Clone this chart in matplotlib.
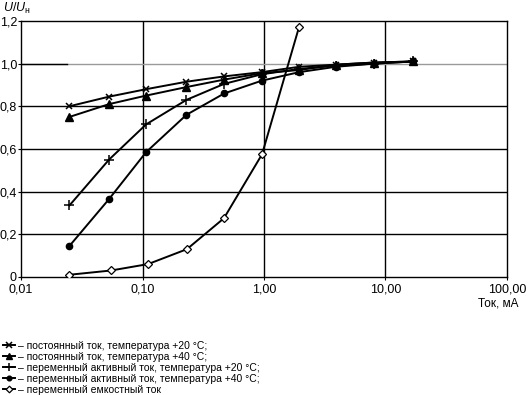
import matplotlib
matplotlib.use('Agg')
import matplotlib.pyplot as plt
from matplotlib.ticker import FixedLocator, NullLocator

plt.rcParams['font.family'] = ['Liberation Sans', 'DejaVu Sans']
plt.rcParams['mathtext.fontset'] = 'custom'
plt.rcParams['mathtext.rm'] = 'Liberation Sans'
plt.rcParams['mathtext.it'] = 'Liberation Sans:italic'

# Data (current in mA, U/Uн)
x_main = [0.025, 0.053, 0.107, 0.23, 0.47, 0.96, 1.95, 3.9, 8.1, 17.0]
dc20 = [0.80, 0.845, 0.88, 0.915, 0.94, 0.96, 0.985, 0.995, 1.005, 1.01]
dc40 = [0.75, 0.81, 0.85, 0.89, 0.925, 0.955, 0.97, 0.995, 1.005, 1.01]
ac20 = [0.335, 0.55, 0.715, 0.83, 0.905, 0.95, 0.975, 0.99, 1.0, 1.01]
ac40 = [0.145, 0.365, 0.585, 0.76, 0.86, 0.92, 0.96, 0.985, 1.0, 1.01]
x_cap = [0.025, 0.055, 0.111, 0.232, 0.468, 0.964, 1.94]
cap = [0.01, 0.03, 0.06, 0.13, 0.275, 0.575, 1.17]

labels = [
    '– постоянный ток, температура +20 °C;',
    '– постоянный ток, температура +40 °C;',
    '– переменный активный ток, температура +20 °C;',
    '– переменный активный ток, температура +40 °C;',
    '– переменный емкостный ток',
]
xticks = [0.01, 0.1, 1, 10, 100]
xtick_labels = ['0,01', '0,10', '1,00', '10,00', '100,00']
yticks = [0, 0.2, 0.4, 0.6, 0.8, 1.0, 1.2]
ytick_labels = ['0', '0,2', '0,4', '0,6', '0,8', '1,0', '1,2']

fig = plt.figure(figsize=(5.28, 3.95), dpi=100)
ax = fig.add_axes([0.040, 0.299, 0.920, 0.648])

# grid: black lines, the 1,0 line is grey except a short piece at the left
for xv in xticks[1:-1]:
    ax.axvline(xv, color='black', lw=1.0, zorder=1)
for yv in yticks[1:-1]:
    if yv == 1.0:
        ax.axhline(yv, color='#9a9a9a', lw=1.0, zorder=1)
        ax.plot([0.01, 0.024], [yv, yv], color='black', lw=1.0, zorder=1)
    else:
        ax.axhline(yv, color='black', lw=1.0, zorder=1)

kw = dict(color='black', lw=1.4, zorder=3)
h1, = ax.plot(x_main, dc20, marker='x', ms=5, mew=1.1, **kw)
h2, = ax.plot(x_main, dc40, marker='^', ms=6, **kw)
h3, = ax.plot(x_main, ac20, marker='+', ms=7, mew=1.1, **kw)
h4, = ax.plot(x_main, ac40, marker='o', ms=4.5, **kw)
h5, = ax.plot(x_cap, cap, marker='D', ms=4.5, mfc='white', mew=0.9, **kw)

ax.set_xscale('log')
ax.set_xlim(0.01, 100)
ax.set_ylim(0, 1.2)
ax.xaxis.set_major_locator(FixedLocator(xticks))
ax.xaxis.set_minor_locator(NullLocator())
ax.set_xticklabels(xtick_labels)
ax.set_yticks(yticks)
ax.set_yticklabels(ytick_labels)
ax.tick_params(axis='both', labelsize=9, length=2, width=0.8)
ax.tick_params(axis='y', pad=1.0)
ax.tick_params(axis='x', pad=2.5)
for sp in ax.spines.values():
    sp.set_linewidth(1.0)

fig.text(0.006, 0.997, r'$U/U_{\mathrm{н}}$', fontsize=9, va='top', ha='left')
fig.text(0.982, 0.232, 'Ток, мА', fontsize=8.5, ha='right', va='center')

fig.legend([h1, h2, h3, h4, h5], labels, loc='upper left',
           bbox_to_anchor=(-0.005, 0.152), frameon=False, fontsize=7.5,
           handlelength=1.1, handletextpad=0.3, labelspacing=0.1,
           borderpad=0.05, markerscale=0.75)

fig.savefig('out.png', dpi=100)
